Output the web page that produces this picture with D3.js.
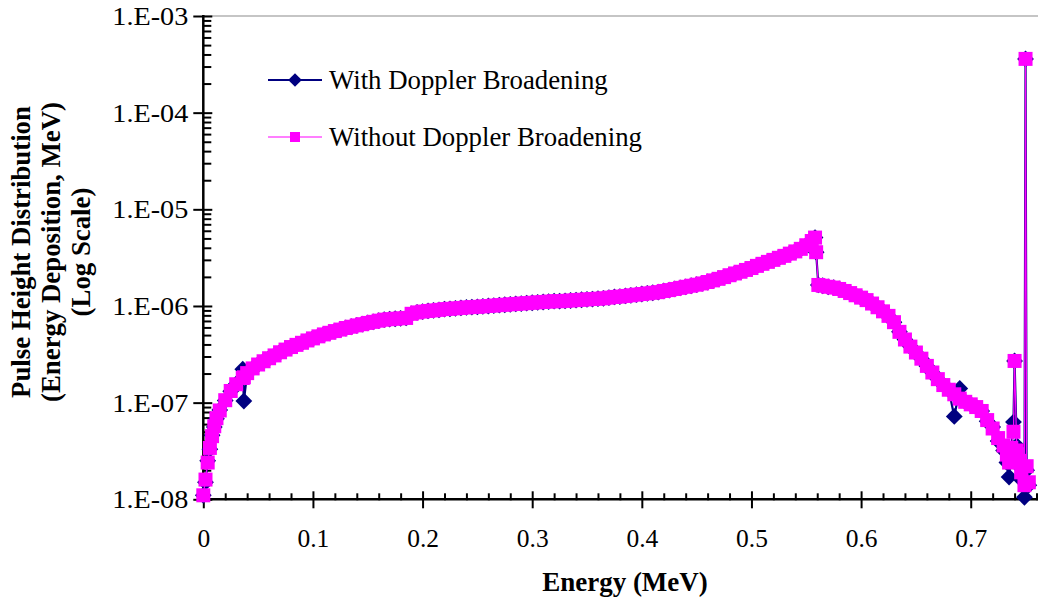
<!DOCTYPE html>
<html>
<head>
<meta charset="utf-8">
<script src="https://cdn.jsdelivr.net/npm/d3@7"></script>
<style>
  html, body { margin: 0; padding: 0; background: #fff; }
  svg { display: block; }
  text { font-family: "Liberation Serif", "Times New Roman", serif; fill: #000; }
</style>
</head>
<body>
<svg id="chart" width="1038" height="603"></svg>
<script>
// Pulse height spectrum (energy deposition per MeV) with and without Doppler broadening
const energy = [
  0, 0.002, 0.004, 0.006, 0.008, 0.010, 0.012, 0.015, 0.020, 0.025, 0.030, 0.036, 0.037, 0.040, 0.045,
  0.050, 0.055, 0.060, 0.065, 0.070, 0.075, 0.080, 0.085, 0.090, 0.095,
  0.100, 0.105, 0.110, 0.115, 0.120, 0.125, 0.130, 0.135, 0.140, 0.145,
  0.150, 0.155, 0.160, 0.165, 0.170, 0.175, 0.180, 0.185, 0.190, 0.195,
  0.200, 0.205, 0.210, 0.215, 0.220, 0.225, 0.230, 0.235, 0.240, 0.245,
  0.250, 0.255, 0.260, 0.265, 0.270, 0.275, 0.280, 0.285, 0.290, 0.295,
  0.300, 0.305, 0.310, 0.315, 0.320, 0.325, 0.330, 0.335, 0.340, 0.345,
  0.350, 0.355, 0.360, 0.365, 0.370, 0.375, 0.380, 0.385, 0.390, 0.395,
  0.400, 0.405, 0.410, 0.415, 0.420, 0.425, 0.430, 0.435, 0.440, 0.445,
  0.450, 0.455, 0.460, 0.465, 0.470, 0.475, 0.480, 0.485, 0.490, 0.495,
  0.500, 0.505, 0.510, 0.515, 0.520, 0.525, 0.530, 0.535, 0.540, 0.545,
  0.550, 0.555, 0.558, 0.559, 0.561, 0.565, 0.570, 0.575, 0.580, 0.585,
  0.590, 0.595, 0.600, 0.605, 0.610, 0.615, 0.620, 0.625, 0.630, 0.635,
  0.640, 0.645, 0.650, 0.655, 0.660, 0.665, 0.670, 0.675, 0.680, 0.685,
  0.690, 0.695, 0.700, 0.705, 0.710, 0.715, 0.720, 0.725, 0.730, 0.733,
  0.735, 0.737, 0.739, 0.740, 0.742, 0.744, 0.746, 0.749, 0.750, 0.751, 0.753
];

const withDoppler = [
  1.1e-8, 1.5e-8, 2.5e-8, 3.3e-8, 4.6e-8, 5.6e-8, 6.8e-8, 8.4e-8, 1.05e-7, 1.31e-7, 1.56e-7, 2.22e-7, 1.04e-7, 2.0e-7, 2.26e-7,
  2.48e-7, 2.68e-7, 2.88e-7, 3.08e-7, 3.32e-7, 3.54e-7, 3.76e-7, 3.96e-7, 4.16e-7, 4.40e-7,
  4.62e-7, 4.85e-7, 5.08e-7, 5.28e-7, 5.50e-7, 5.70e-7, 5.92e-7, 6.10e-7, 6.30e-7, 6.48e-7,
  6.68e-7, 6.85e-7, 7.05e-7, 7.22e-7, 7.30e-7, 7.38e-7, 7.45e-7, 7.52e-7, 8.30e-7, 8.58e-7,
  8.75e-7, 8.88e-7, 9.00e-7, 9.12e-7, 9.28e-7, 9.35e-7, 9.45e-7, 9.55e-7, 9.66e-7, 9.74e-7,
  9.80e-7, 9.90e-7, 1.00e-6, 1.01e-6, 1.02e-6, 1.03e-6, 1.04e-6, 1.05e-6, 1.06e-6, 1.07e-6,
  1.08e-6, 1.09e-6, 1.10e-6, 1.11e-6, 1.12e-6, 1.12e-6, 1.13e-6, 1.14e-6, 1.15e-6, 1.16e-6,
  1.17e-6, 1.18e-6, 1.19e-6, 1.20e-6, 1.22e-6, 1.24e-6, 1.25e-6, 1.27e-6, 1.29e-6, 1.31e-6,
  1.33e-6, 1.35e-6, 1.37e-6, 1.39e-6, 1.43e-6, 1.46e-6, 1.50e-6, 1.54e-6, 1.58e-6, 1.62e-6,
  1.66e-6, 1.71e-6, 1.77e-6, 1.84e-6, 1.91e-6, 1.99e-6, 2.08e-6, 2.17e-6, 2.26e-6, 2.36e-6,
  2.47e-6, 2.60e-6, 2.73e-6, 2.86e-6, 3.00e-6, 3.15e-6, 3.30e-6, 3.48e-6, 3.67e-6, 3.90e-6,
  4.25e-6, 4.70e-6, 5.10e-6, 3.60e-6, 1.65e-6, 1.62e-6, 1.58e-6, 1.55e-6, 1.50e-6, 1.43e-6,
  1.36e-6, 1.29e-6, 1.22e-6, 1.15e-6, 1.06e-6, 9.7e-7, 8.8e-7, 7.9e-7, 6.8e-7, 5.4e-7,
  4.5e-7, 3.8e-7, 3.3e-7, 2.85e-7, 2.4e-7, 2.05e-7, 1.75e-7, 1.52e-7, 1.36e-7, 7.2e-8,
  1.4e-7, 1.02e-7, 9.6e-8, 9.0e-8, 8.2e-8, 6.4e-8, 5.6e-8, 4.0e-8, 3.2e-8, 2.4e-8,
  1.7e-8, 3.0e-8, 6.3e-8, 2.7e-7, 3.6e-8, 2.2e-8, 1.6e-8, 1.05e-8, 3.6e-4, 2.0e-8, 1.4e-8
];

const withoutDoppler = [
  1.1e-8, 1.6e-8, 2.4e-8, 3.4e-8, 4.5e-8, 5.7e-8, 6.9e-8, 8.3e-8, 1.06e-7, 1.32e-7, 1.55e-7, 1.80e-7, 1.83e-7, 2.02e-7, 2.26e-7,
  2.48e-7, 2.68e-7, 2.88e-7, 3.08e-7, 3.32e-7, 3.54e-7, 3.76e-7, 3.96e-7, 4.16e-7, 4.40e-7,
  4.62e-7, 4.85e-7, 5.08e-7, 5.28e-7, 5.50e-7, 5.70e-7, 5.92e-7, 6.10e-7, 6.30e-7, 6.48e-7,
  6.68e-7, 6.85e-7, 7.05e-7, 7.22e-7, 7.30e-7, 7.38e-7, 7.45e-7, 7.52e-7, 8.30e-7, 8.58e-7,
  8.75e-7, 8.88e-7, 9.00e-7, 9.12e-7, 9.28e-7, 9.35e-7, 9.45e-7, 9.55e-7, 9.66e-7, 9.74e-7,
  9.80e-7, 9.90e-7, 1.00e-6, 1.01e-6, 1.02e-6, 1.03e-6, 1.04e-6, 1.05e-6, 1.06e-6, 1.07e-6,
  1.08e-6, 1.09e-6, 1.10e-6, 1.11e-6, 1.12e-6, 1.12e-6, 1.13e-6, 1.14e-6, 1.15e-6, 1.16e-6,
  1.17e-6, 1.18e-6, 1.19e-6, 1.20e-6, 1.22e-6, 1.24e-6, 1.25e-6, 1.27e-6, 1.29e-6, 1.31e-6,
  1.33e-6, 1.35e-6, 1.37e-6, 1.39e-6, 1.43e-6, 1.46e-6, 1.50e-6, 1.54e-6, 1.58e-6, 1.62e-6,
  1.66e-6, 1.71e-6, 1.77e-6, 1.84e-6, 1.91e-6, 1.99e-6, 2.08e-6, 2.17e-6, 2.26e-6, 2.36e-6,
  2.47e-6, 2.60e-6, 2.73e-6, 2.86e-6, 3.00e-6, 3.15e-6, 3.30e-6, 3.48e-6, 3.67e-6, 3.90e-6,
  4.25e-6, 4.70e-6, 5.10e-6, 3.60e-6, 1.65e-6, 1.62e-6, 1.58e-6, 1.55e-6, 1.50e-6, 1.43e-6,
  1.36e-6, 1.29e-6, 1.22e-6, 1.15e-6, 1.06e-6, 9.7e-7, 8.8e-7, 7.9e-7, 6.8e-7, 5.4e-7,
  4.5e-7, 3.8e-7, 3.3e-7, 2.85e-7, 2.4e-7, 2.05e-7, 1.75e-7, 1.52e-7, 1.36e-7, 1.22e-7,
  1.10e-7, 1.02e-7, 9.6e-8, 9.0e-8, 8.2e-8, 6.6e-8, 5.4e-8, 4.3e-8, 3.6e-8, 2.9e-8,
  2.4e-8, 3.4e-8, 5.0e-8, 2.7e-7, 3.2e-8, 2.5e-8, 1.9e-8, 1.4e-8, 3.6e-4, 2.2e-8, 1.5e-8
];

const seriesNames = ["With Doppler Broadening", "Without Doppler Broadening"];

const xTickValues = [0, 0.1, 0.2, 0.3, 0.4, 0.5, 0.6, 0.7];
const xTickLabels = ["0", "0.1", "0.2", "0.3", "0.4", "0.5", "0.6", "0.7"];
const yTickValues = [1e-8, 1e-7, 1e-6, 1e-5, 1e-4, 1e-3];
const yTickLabels = ["1.E-08", "1.E-07", "1.E-06", "1.E-05", "1.E-04", "1.E-03"];

const xTitle = "Energy (MeV)";
const yTitleLines = ["Pulse Height Distribution", "(Energy Deposition, MeV)", "(Log Scale)"];

// ---- layout ----
const svg = d3.select("#chart");
const plot = { left: 203.3, right: 1036.5, top: 16, bottom: 499.3 };
const NAVY = "#000080", MAGENTA = "#FF00FF";

const x = d3.scaleLinear().domain([0, 0.76]).range([plot.left, plot.right]);
const y = d3.scaleLog().domain([1e-8, 1e-3]).range([plot.bottom, plot.top]);

// top border of the plot area
svg.append("line")
  .attr("x1", plot.left).attr("x2", 1038)
  .attr("y1", y(1e-3)).attr("y2", y(1e-3))
  .attr("stroke", "#8c8c8c").attr("stroke-width", 1.2);

// ---- x axis ----
const xMinor = d3.range(0, 0.7601, 0.02).map(v => +v.toFixed(2))
  .filter(v => !xTickValues.some(t => Math.abs(t - v) < 1e-9));

const gxMinor = svg.append("g").attr("transform", `translate(0,${plot.bottom})`)
  .call(d3.axisBottom(x).tickValues(xMinor).tickSize(0).tickFormat(""));
gxMinor.select(".domain").remove();
gxMinor.selectAll(".tick line").attr("y1", -6).attr("y2", 1)
  .attr("stroke", "#000").attr("stroke-width", 2);

const gx = svg.append("g").attr("transform", `translate(0,${plot.bottom})`)
  .call(d3.axisBottom(x).tickValues(xTickValues).tickSize(0)
    .tickFormat((d, i) => xTickLabels[i]).tickPadding(0));
gx.select(".domain").remove();
gx.selectAll(".tick line").attr("y1", -8).attr("y2", 9)
  .attr("stroke", "#000").attr("stroke-width", 2);
gx.selectAll(".tick text").attr("y", 48).attr("dy", null)
  .style("font-size", "25.5px").attr("fill", "#000");

svg.append("line")
  .attr("x1", plot.left - 1).attr("x2", plot.right + 1.5)
  .attr("y1", plot.bottom).attr("y2", plot.bottom)
  .attr("stroke", "#000").attr("stroke-width", 2.5);

// ---- y axis ----
const yMinor = [];
for (let e = -8; e < -3; e++) {
  for (let k = 2; k <= 9; k++) yMinor.push(k * Math.pow(10, e));
}
const gyMinor = svg.append("g").attr("transform", `translate(${plot.left},0)`)
  .call(d3.axisLeft(y).tickValues(yMinor).tickSize(0).tickFormat(""));
gyMinor.select(".domain").remove();
gyMinor.selectAll(".tick line").attr("x1", 0).attr("x2", 8)
  .attr("stroke", "#000").attr("stroke-width", 2);

const gy = svg.append("g").attr("transform", `translate(${plot.left},0)`)
  .call(d3.axisLeft(y).tickValues(yTickValues).tickSize(0)
    .tickFormat((d, i) => yTickLabels[i]).tickPadding(0));
gy.select(".domain").remove();
gy.selectAll(".tick line").attr("x1", -10).attr("x2", 9)
  .attr("stroke", "#000").attr("stroke-width", 2);
gy.selectAll(".tick text").attr("x", -15).attr("dy", "0.34em")
  .style("font-size", "25px").attr("fill", "#000")
  .attr("textLength", 76).attr("lengthAdjust", "spacingAndGlyphs");

svg.append("line")
  .attr("x1", plot.left).attr("x2", plot.left)
  .attr("y1", plot.top - 1).attr("y2", plot.bottom + 1)
  .attr("stroke", "#000").attr("stroke-width", 2.5);

// ---- axis titles ----
svg.append("text")
  .attr("x", 625).attr("y", 591)
  .attr("text-anchor", "middle")
  .style("font-size", "27px").style("font-weight", "bold")
  .text(xTitle);

const yTitle = svg.append("g");
yTitleLines.forEach((line, i) => {
  yTitle.append("text")
    .attr("transform", `translate(${30 + i * 30},252) rotate(-90)`)
    .attr("text-anchor", "middle")
    .style("font-size", "26.8px").style("font-weight", "bold")
    .text(line);
});

// ---- series ----
const pts = (vals) => energy.map((e, i) => [e, vals[i]]);
const line = d3.line().x(d => x(d[0])).y(d => y(d[1]));
const diamond = "M0,-8.4L8.4,0L0,8.4L-8.4,0Z";
const legendDiamond = "M0,-6.8L6.8,0L0,6.8L-6.8,0Z";
const SQ = 14;

const withPts = pts(withDoppler);
const withoutPts = pts(withoutDoppler);

const gWith = svg.append("g");
gWith.append("path").datum(withPts)
  .attr("d", line).attr("fill", "none")
  .attr("stroke", NAVY).attr("stroke-width", 2.2);
gWith.selectAll("path.m").data(withPts).enter().append("path")
  .attr("class", "m")
  .attr("transform", d => `translate(${x(d[0])},${y(d[1])})`)
  .attr("d", diamond).attr("fill", NAVY);

const gWithout = svg.append("g");
gWithout.append("path").datum(withoutPts)
  .attr("d", line).attr("fill", "none")
  .attr("stroke", MAGENTA).attr("stroke-width", 1.2);
gWithout.selectAll("rect").data(withoutPts).enter().append("rect")
  .attr("x", d => x(d[0]) - SQ / 2).attr("y", d => y(d[1]) - SQ / 2)
  .attr("width", SQ).attr("height", SQ).attr("fill", MAGENTA);

// ---- legend ----
const legend = svg.append("g");
const legendRows = [
  { name: seriesNames[0], y: 80, color: NAVY, width: 2.2, marker: "diamond" },
  { name: seriesNames[1], y: 137, color: MAGENTA, width: 1.2, marker: "square" }
];
legendRows.forEach(r => {
  legend.append("line")
    .attr("x1", 268).attr("x2", 322).attr("y1", r.y).attr("y2", r.y)
    .attr("stroke", r.color).attr("stroke-width", r.width);
  if (r.marker === "diamond") {
    legend.append("path").attr("transform", `translate(295,${r.y})`)
      .attr("d", legendDiamond).attr("fill", r.color);
  } else {
    legend.append("rect").attr("x", 295 - 5).attr("y", r.y - 5)
      .attr("width", 10).attr("height", 10).attr("fill", r.color);
  }
  legend.append("text")
    .attr("x", 329).attr("y", r.y + 9)
    .style("font-size", "26.8px")
    .text(r.name);
});
</script>
</body>
</html>
